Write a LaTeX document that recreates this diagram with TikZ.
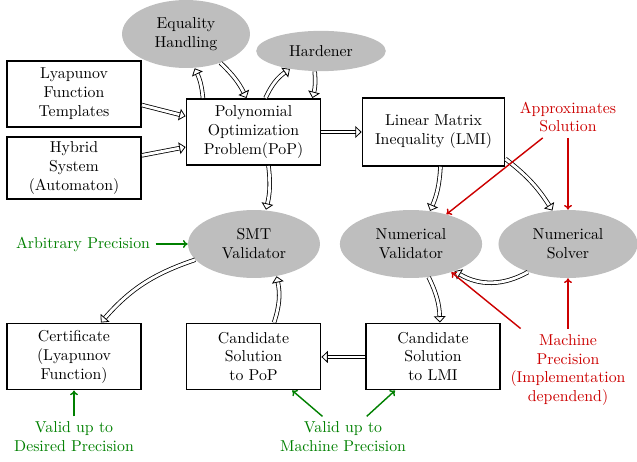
\documentclass[tikz,border=0pt]{standalone}
\usetikzlibrary{arrows.meta,shapes.geometric}
\definecolor{myred}{RGB}{204,0,0}
\definecolor{mygreen}{RGB}{0,128,0}
\definecolor{mygray}{RGB}{190,190,190}
\begin{document}
\begin{tikzpicture}[x=0.633pt,y=-0.633pt,
  box/.style={draw, line width=1pt, align=center, minimum width=85pt, minimum height=42pt, inner sep=2pt},
  ell/.style={ellipse, fill=mygray, align=center, inner sep=0pt},
  dbl/.style={double, double distance=1.8pt, line width=0.5pt, -{Triangle[open,length=4pt,width=7.5pt]}},
  rtxt/.style={text=myred, align=center},
  gtxt/.style={text=mygreen, align=center},
  rarr/.style={myred, line width=0.9pt, -{To[length=3pt,width=5pt]}},
  garr/.style={mygreen, line width=0.9pt, -{To[length=3pt,width=5pt]}}]
\useasboundingbox (0,0) rectangle (637,462);
% nodes
\node[ell, minimum width=81pt, minimum height=43pt] (eq) at (186,34) {Equality\\Handling};
\node[ell, minimum width=82pt, minimum height=25.5pt] (hard) at (321,51) {Hardener};
\node[box] (lyap) at (74,94) {Lyapunov\\Function\\Templates};
\node[box, minimum height=39pt] (hyb) at (74,168) {Hybrid\\System\\(Automaton)};
\node[box] (pop) at (253.5,132) {Polynomial\\Optimization\\Problem(PoP)};
\node[box, minimum width=90pt, minimum height=43pt] (lmi) at (433.5,132) {Linear Matrix\\Inequality (LMI)};
\node[rtxt] (approx) at (568,117) {Approximates\\Solution};
\node[ell, minimum width=83.5pt, minimum height=43pt] (smt) at (254,244) {SMT\\Validator};
\node[ell, minimum width=90pt, minimum height=43pt] (nv) at (411,244) {Numerical\\Validator};
\node[ell, minimum width=88pt, minimum height=43pt] (ns) at (568,244) {Numerical\\Solver};
\node[gtxt] (arb) at (83,244) {Arbitrary Precision};
\node[box] (cert) at (74,356.5) {Certificate\\(Lyapunov\\Function)};
\node[box] (cpop) at (253.5,356.5) {Candidate\\Solution\\to PoP};
\node[box] (clmi) at (433,356.5) {Candidate\\Solution\\to LMI};
\node[rtxt] (mach) at (568,370) {Machine\\Precision\\(Implementation\\dependend)};
\node[gtxt] (vdes) at (74,437) {Valid up to\\Desired Precision};
\node[gtxt] (vmach) at (343,437) {Valid up to\\Machine Precision};
% double arrows
\draw[dbl] ([yshift=-7pt]lyap.east) -- ([yshift=10pt]pop.west);
\draw[dbl] ([yshift=8pt]hyb.east) -- ([yshift=-9.5pt]pop.west);
\draw[dbl] ([xshift=-32pt]pop.north) to[bend right=10] ([xshift=5.5pt]eq.south);
\draw[dbl] (eq.-40) to[bend left=10] ([xshift=-4.4pt]pop.north);
\draw[dbl] ([xshift=7.6pt]pop.north) to[bend left=15] (hard.-150);
\draw[dbl] ([xshift=-4pt]hard.south) to[bend left=10] ([xshift=-5.7pt]pop.north east);
\draw[dbl] (pop.east) -- (lmi.west);
\draw[dbl] ([xshift=9.5pt]pop.south) to[bend left=10] ([xshift=7.6pt]smt.north);
\draw[dbl] ([xshift=4.4pt]lmi.south) to[bend left=10] (nv.60);
\draw[dbl] ([yshift=5pt]lmi.south east) to[bend left=10] (ns.115);
\draw[dbl] (ns.-145) to[bend left=30] (nv.-32);
\draw[dbl] (nv.-62) to[bend left=12] ([xshift=4.4pt]clmi.north);
\draw[dbl] ([yshift=-0.3pt]clmi.west) -- ([yshift=-0.3pt]cpop.east);
\draw[dbl] ([xshift=13pt]cpop.north) to[bend right=15] (smt.-55);
\draw[dbl] (smt.-165) to[bend right=15] ([xshift=17pt]cert.north);
% red arrows
\draw[rarr] ([xshift=-16pt]approx.south) -- (nv.40);
\draw[rarr] (approx.south) -- (ns.north);
\draw[rarr] ([xshift=-30pt]mach.north) -- (nv.-35);
\draw[rarr] (mach.north) -- (ns.south);
% green arrows
\draw[garr] (arb.east) -- (smt.west);
\draw[garr] (vdes.north) -- (cert.south);
\draw[garr] ([xshift=-13pt]vmach.north) -- ([xshift=24.5pt]cpop.south);
\draw[garr] ([xshift=15pt]vmach.north) -- ([xshift=-24pt]clmi.south);
\end{tikzpicture}
\end{document}
